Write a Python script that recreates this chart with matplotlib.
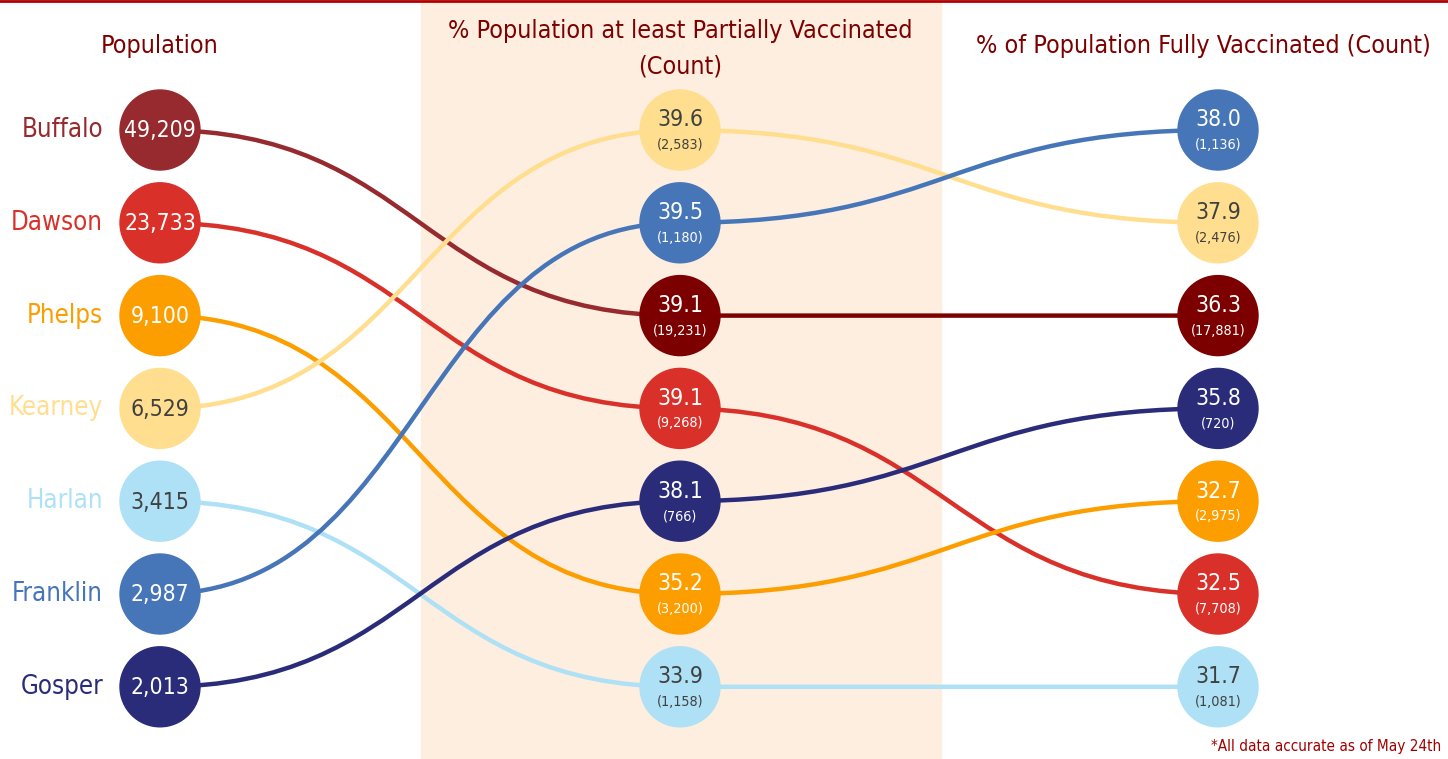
import matplotlib
matplotlib.use("Agg")
import matplotlib.pyplot as plt
from matplotlib.patches import Circle, Rectangle, PathPatch
from matplotlib.path import Path
from matplotlib import font_manager as fm

# ---------------- data ----------------
counties = ["Buffalo", "Dawson", "Phelps", "Kearney", "Harlan", "Franklin", "Gosper"]
population = [49209, 23733, 9100, 6529, 3415, 2987, 2013]
partial_pct = [39.1, 39.1, 35.2, 39.6, 33.9, 39.5, 38.1]
partial_count = [19231, 9268, 3200, 2583, 1158, 1180, 766]
full_pct = [36.3, 32.5, 32.7, 37.9, 31.7, 38.0, 35.8]
full_count = [17881, 7708, 2975, 2476, 1081, 1136, 720]
# rank order on the middle / right columns (top to bottom)
partial_order = ["Kearney", "Franklin", "Buffalo", "Dawson", "Gosper", "Phelps", "Harlan"]
full_order = ["Franklin", "Kearney", "Buffalo", "Gosper", "Phelps", "Dawson", "Harlan"]

headers = ["Population", "% Population at least Partially Vaccinated\n(Count)",
           "% of Population Fully Vaccinated (Count)"]
footnote = "*All data accurate as of May 24th"

# ---------------- style ----------------
left_colors = {"Buffalo": "#962a2e", "Dawson": "#d93129", "Phelps": "#fd9e00",
               "Kearney": "#ffdf8f", "Harlan": "#aee1f5", "Franklin": "#4676b8",
               "Gosper": "#2a2c79"}
mid_colors = dict(left_colors, Buffalo="#7d0000")
light = {"Kearney", "Harlan"}
header_color = "#7d0000"

avail = {f.name for f in fm.fontManager.ttflist}
if "Liberation Sans Narrow" in avail:
    FONT = dict(family="Liberation Sans Narrow")
else:
    FONT = dict(family="DejaVu Sans", stretch="condensed")

W, H = 1448, 759
fig = plt.figure(figsize=(W / 100, H / 100), dpi=100)
ax = fig.add_axes([0, 0, 1, 1])
ax.set_xlim(0, W)
ax.set_ylim(H, 0)
ax.axis("off")

x_left, x_mid, x_right = 160, 680, 1218
y0, dy = 130, 92.8
R = 40

ax.add_patch(Rectangle((421, 0), 520, H, color="#fdeee0", zorder=0))
ax.plot([0, W], [1, 1], color="#b00000", lw=2, zorder=5)

def ypos(i):
    return y0 + i * dy

def curve(xa, ya, xb, yb, color):
    xm = (xa + xb) / 2
    p = Path([(xa, ya), (xm, ya), (xm, yb), (xb, yb)],
             [Path.MOVETO, Path.CURVE4, Path.CURVE4, Path.CURVE4])
    ax.add_patch(PathPatch(p, fc="none", ec=color, lw=3.2, zorder=1,
                           capstyle="round"))

for i, c in enumerate(counties):
    yl = ypos(i)
    ym = ypos(partial_order.index(c))
    yr = ypos(full_order.index(c))
    curve(x_left, yl, x_mid, ym, left_colors[c])
    curve(x_mid, ym, x_right, yr, mid_colors[c])

    txtc = "#404040" if c in light else "white"
    # left
    ax.add_patch(Circle((x_left, yl), R, color=left_colors[c], zorder=3))
    ax.text(x_left, yl + 1, f"{population[i]:,}", ha="center", va="center",
            color=txtc, fontsize=16.5, zorder=4, **FONT)
    ax.text(103, yl, c, ha="right", va="center", color=left_colors[c],
            fontsize=18.5, zorder=4, **FONT)
    # middle
    ax.add_patch(Circle((x_mid, ym), R, color=mid_colors[c], zorder=3))
    ax.text(x_mid, ym - 10, f"{partial_pct[i]:.1f}", ha="center", va="center",
            color=txtc, fontsize=16.5, zorder=4, **FONT)
    ax.text(x_mid, ym + 15, f"({partial_count[i]:,})", ha="center", va="center",
            color=txtc, fontsize=10.3, zorder=4, **FONT)
    # right
    ax.add_patch(Circle((x_right, yr), R, color=mid_colors[c], zorder=3))
    ax.text(x_right, yr - 10, f"{full_pct[i]:.1f}", ha="center", va="center",
            color=txtc, fontsize=16.5, zorder=4, **FONT)
    ax.text(x_right, yr + 15, f"({full_count[i]:,})", ha="center", va="center",
            color=txtc, fontsize=10.3, zorder=4, **FONT)

ax.text(160, 46, headers[0], ha="center", va="center", color=header_color,
        fontsize=18, **FONT)
ax.text(680, 49, headers[1], ha="center", va="center", color=header_color,
        fontsize=18, linespacing=1.6, **FONT)
ax.text(1203, 46, headers[2], ha="center", va="center", color=header_color,
        fontsize=18, **FONT)
ax.text(1441, 746, footnote, ha="right", va="center", color="#a00000",
        fontsize=11, **FONT)

fig.savefig("out.png", dpi=100)
